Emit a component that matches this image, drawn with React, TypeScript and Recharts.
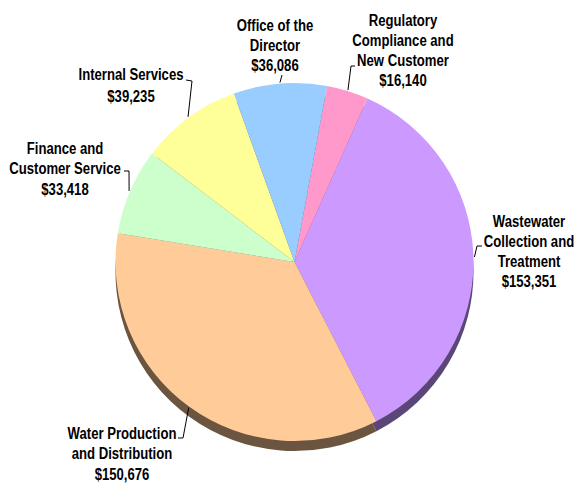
import React from 'react';
import { PieChart, Pie, Cell } from 'recharts';

// Department budgets
const categories = [
  'Regulatory Compliance and New Customer',
  'Wastewater Collection and Treatment',
  'Water Production and Distribution',
  'Finance and Customer Service',
  'Internal Services',
  'Office of the Director',
];
const amounts = [16140, 153351, 150676, 33418, 39235, 36086];
const labelText = [
  ['Regulatory', 'Compliance and', 'New Customer'],
  ['Wastewater', 'Collection and', 'Treatment'],
  ['Water Production', 'and Distribution'],
  ['Finance and', 'Customer Service'],
  ['Internal Services'],
  ['Office of the', 'Director'],
];

const fills = ['#FF99CC', '#CC99FF', '#FFCC99', '#CCFFCC', '#FFFF99', '#99CCFF'];
const shadowFills = ['#8a5570', '#5b4678', '#6b5540', '#5f7560', '#77773f', '#4f6680'];

// label placement (text centre x, first baseline y, leader elbow points)
const labelLayout = [
  { x: 403, y: 26, gap: 20, elbow: [[355, 66], [351, 66]] },
  { x: 529, y: 227, gap: 20, elbow: [[482, 246], [477, 246]] },
  { x: 122, y: 439, gap: 20.5, elbow: [[178, 438], [183, 438]] },
  { x: 65, y: 154, gap: 20.5, elbow: [[124, 171], [129, 171]] },
  { x: 131, y: 80, gap: 22, elbow: [[186, 80], [192, 81]] },
  { x: 275, y: 31, gap: 20, elbow: [[282, 75]] },
];

const data = categories.map((name, i) => ({ name, value: amounts[i] }));

const RAD = Math.PI / 180;
const SQUEEZE = 0.82; // narrow bold look

const renderLabel = (props: any) => {
  const { cx, cy, midAngle, outerRadius, index } = props;
  const lay = labelLayout[index];
  const ex = cx + (outerRadius + 1) * Math.cos(-midAngle * RAD);
  const ey = cy + (outerRadius + 1) * Math.sin(-midAngle * RAD);
  const pts = [...lay.elbow, [ex, ey]].map((p) => p.join(',')).join(' ');
  const lines = [...labelText[index], '$' + amounts[index].toLocaleString('en-US')];
  return (
    <g key={'lbl' + index}>
      <polyline points={pts} fill="none" stroke="#000" strokeWidth={1} />
      <g transform={`translate(${lay.x},0) scale(${SQUEEZE},1)`}>
        <text
          x={0}
          y={lay.y}
          textAnchor="middle"
          fontFamily="'Liberation Sans', Arial, sans-serif"
          fontWeight="bold"
          fontSize={16}
          fill="#000"
        >
          {lines.map((t, j) => (
            <tspan key={j} x={0} y={lay.y + j * lay.gap}>
              {t}
            </tspan>
          ))}
        </text>
      </g>
    </g>
  );
};

export default function App() {
  return (
    <div style={{ position: 'absolute', left: 0, top: 0, width: 578, height: 484, background: '#fff' }}>
      <PieChart width={578} height={484} margin={{ top: 0, right: 0, bottom: 0, left: 0 }}>
        <Pie
          data={data}
          dataKey="value"
          cx={294.5}
          cy={272}
          outerRadius={179}
          startAngle={79.5}
          endAngle={-280.5}
          stroke="none"
          isAnimationActive={false}
        >
          {data.map((d, i) => (
            <Cell key={d.name} fill={shadowFills[i]} />
          ))}
        </Pie>
        <Pie
          data={data}
          dataKey="value"
          cx={294.5}
          cy={262}
          outerRadius={179}
          startAngle={79.5}
          endAngle={-280.5}
          stroke="none"
          label={renderLabel}
          labelLine={false}
          isAnimationActive={false}
        >
          {data.map((d, i) => (
            <Cell key={d.name} fill={fills[i]} />
          ))}
        </Pie>
      </PieChart>
    </div>
  );
}
